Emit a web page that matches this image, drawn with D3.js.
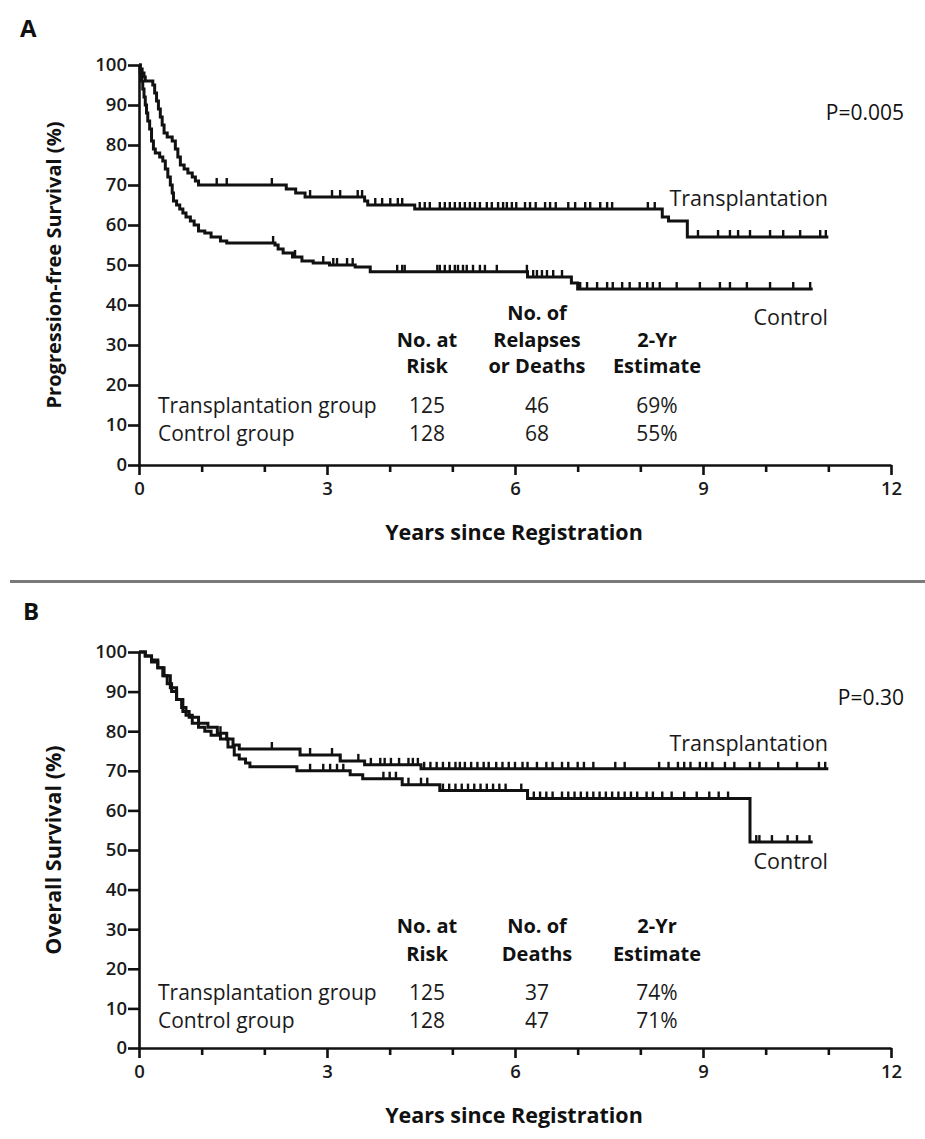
<!DOCTYPE html>
<html>
<head>
<meta charset="utf-8">
<script src="https://cdn.jsdelivr.net/npm/d3@7"></script>
<style>
  body { margin: 0; background: #fff; }
  svg { display: block; font-family: "Open Sans", "DejaVu Sans", sans-serif; }
</style>
</head>
<body>
<script>
/* globals d3 */
// Kaplan-Meier steps as [years, survival %]; each step holds until the next one
const pfsTransplant = [[0,100],[0.02,99],[0.05,98],[0.08,97],[0.1,96],[0.22,95],[0.25,93],[0.28,91],[0.31,89],[0.34,87],[0.37,85],[0.4,83],[0.45,82],[0.53,81],[0.58,79],[0.62,77],[0.66,75],[0.72,74],[0.78,73],[0.85,72],[0.9,71],[0.95,70],[2.35,69],[2.5,68],[2.65,67],[3.6,66],[3.65,65],[4.4,64],[8.35,62],[8.45,61],[8.75,57]]
const pfsControl = [[0,100],[0.02,98],[0.04,96],[0.06,94],[0.08,92],[0.1,90],[0.12,88],[0.14,86],[0.17,84],[0.2,81],[0.23,79],[0.26,78],[0.33,77],[0.38,76],[0.42,74],[0.46,72],[0.5,70],[0.53,68],[0.55,66],[0.6,65],[0.65,64],[0.7,63],[0.75,62],[0.82,61],[0.88,60],[0.95,58.5],[1.05,58],[1.15,57],[1.3,56],[1.4,55.5],[2.17,55],[2.22,54],[2.3,53],[2.45,52],[2.6,51],[2.78,50.5],[3.04,50],[3.45,49.5],[3.69,48.3],[6.2,47],[6.9,45.5],[7.0,44]]
const osTransplant = [[0,100],[0.1,99],[0.2,98],[0.3,96],[0.4,94],[0.5,91],[0.6,88],[0.7,85],[0.8,83.5],[0.95,82],[1.1,81],[1.25,79.5],[1.4,78],[1.5,76.5],[1.6,75.5],[2.57,74],[3.21,72.5],[3.6,71.5],[4.5,70.5]]
const osControl = [[0,100],[0.1,99],[0.2,97.5],[0.3,96],[0.38,94],[0.45,92],[0.52,90],[0.6,88],[0.68,86],[0.75,84],[0.85,82],[0.95,81],[1.05,80],[1.15,79],[1.3,78],[1.42,76],[1.52,74],[1.6,73],[1.7,72],[1.77,71],[2.52,70],[3.37,69],[3.57,68],[4.2,66.5],[4.8,65],[6.2,63],[9.75,52]]

// last follow-up (years) for each curve
const followUp = { pfsTransplant: 11.0, pfsControl: 10.75, osTransplant: 11.0, osControl: 10.75 }

// censoring marks (years)
const pfsTransplantCensor = [1.24,1.4,2.12,2.73,3.08,3.21,3.49,3.56,3.77,3.88,4.01,4.13,4.2,4.48,4.56,4.64,4.8,4.88,4.96,5.04,5.12,5.2,5.28,5.36,5.44,5.55,5.63,5.73,5.81,5.87,5.95,6.02,6.16,6.24,6.33,6.48,6.56,6.65,6.85,6.96,7.12,7.2,7.36,7.47,7.55,8.12,8.23,8.92,9.24,9.43,9.56,9.75,10.07,10.28,10.55,10.87,10.96]
const pfsControlCensor = [2.14,2.49,2.94,3.1,3.16,3.32,3.41,4.12,4.2,4.24,4.76,4.8,4.88,4.96,5.04,5.09,5.17,5.23,5.33,5.44,5.52,5.71,6.19,6.29,6.35,6.43,6.51,6.61,6.75,7.04,7.15,7.31,7.47,7.56,7.71,7.83,7.99,8.11,8.2,8.31,8.58,8.95,9.27,9.43,9.7,10.07,10.44,10.71]
const osTransplantCensor = [1.3,1.4,2.12,2.73,3.08,3.21,3.5,3.7,3.85,3.92,4.02,4.15,4.3,4.37,4.45,4.55,4.65,4.75,4.85,4.95,5.05,5.12,5.2,5.3,5.4,5.5,5.58,5.7,5.8,5.9,6.0,6.12,6.2,6.35,6.5,6.6,6.75,6.85,7.0,7.1,7.25,7.6,7.75,8.3,8.45,8.6,8.7,8.8,8.95,9.05,9.15,9.35,9.5,9.75,9.9,10.2,10.5,10.85,10.95]
const osControlCensor = [2.73,2.94,3.05,3.16,3.26,3.9,4.0,4.1,4.3,4.5,4.6,4.85,4.95,5.05,5.15,5.25,5.35,5.45,5.55,5.65,5.75,5.85,6.1,6.3,6.4,6.5,6.6,6.75,6.85,6.95,7.05,7.15,7.25,7.35,7.45,7.55,7.65,7.75,7.85,7.95,8.1,8.2,8.35,8.5,8.7,8.9,9.1,9.25,9.4,9.85,9.9,10.1,10.35,10.5,10.7]

const yTicks = [0, 10, 20, 30, 40, 50, 60, 70, 80, 90, 100]
const xTicks = [0, 1, 2, 3, 4, 5, 6, 7, 8, 9, 10, 11, 12]
const xLabels = [0, 3, 6, 9, 12]

const groups = ['Transplantation group', 'Control group']
const atRisk = [125, 128]
const pfsEvents = [46, 68]
const pfsEstimate = ['69%', '55%']
const osEvents = [37, 47]
const osEstimate = ['74%', '71%']

const W = 925, H = 1139
const svg = d3.select('body').append('svg').attr('width', W).attr('height', H)
const x = d3.scaleLinear().domain([0, 12]).range([139, 891])
const colRisk = 427, colEvents = 537, colEst = 657

let stepAt = (steps, t) => {
  let s = steps[0][1]
  for (let [ti, si] of steps) if (ti <= t) s = si
  return s
}

function drawPanel(p) {
  let g = svg.append('g')
  let y = d3.scaleLinear().domain([0, 100]).range([p.y0, p.top])

  g.append('text').text(p.letter)
    .attr('x', p.letterX).attr('y', p.letterY)
    .attr('font-size', 24).attr('font-weight', 700).attr('fill', '#111')

  // axes
  let ya = g.append('g').attr('transform', `translate(${x(0)},0)`)
    .call(d3.axisLeft(y).tickValues(yTicks).tickSize(11).tickSizeOuter(0).tickPadding(1))
  let xa = g.append('g').attr('transform', `translate(0,${p.y0})`)
    .call(d3.axisBottom(x).tickValues(xTicks).tickSize(7).tickSizeOuter(0)
      .tickFormat(d => xLabels.includes(d) ? d : ''))
  xa.selectAll('.tick').filter(d => xLabels.includes(d)).select('line').attr('y2', 10)
  xa.selectAll('.tick text').attr('y', 17)
  for (let a of [ya, xa]) {
    a.select('.domain').attr('stroke', '#111').attr('stroke-width', 2.6)
    a.selectAll('.tick line').attr('stroke', '#111').attr('stroke-width', 2.6)
    a.selectAll('.tick text').attr('font-size', 18.5).attr('font-weight', 600)
      .attr('fill', '#1a1a1a').attr('font-family', '"Open Sans", sans-serif')
  }

  g.append('text').text(p.yTitle)
    .attr('transform', `translate(61,${(p.y0 + p.top) / 2}) rotate(-90)`)
    .attr('text-anchor', 'middle').attr('font-size', p.yTitleSize).attr('font-weight', 700).attr('fill', '#111')
  g.append('text').text('Years since Registration')
    .attr('x', 514).attr('y', p.y0 + 75)
    .attr('text-anchor', 'middle').attr('font-size', 21.5).attr('font-weight', 700).attr('fill', '#111')

  // curves
  let line = d3.line().x(d => x(d[0])).y(d => y(d[1])).curve(d3.curveStepAfter)
  for (let c of p.curves) {
    let pts = c.steps.concat([[c.end, c.steps[c.steps.length - 1][1]]])
    g.append('path').datum(pts).attr('d', line)
      .attr('fill', 'none').attr('stroke', '#111').attr('stroke-width', 3)
    g.append('g').selectAll('line').data(c.censor).join('line')
      .attr('x1', d => x(d)).attr('x2', d => x(d))
      .attr('y1', d => y(stepAt(c.steps, d))).attr('y2', d => y(stepAt(c.steps, d)) - 7)
      .attr('stroke', '#111').attr('stroke-width', 2.4)
    g.append('text').text(c.label)
      .attr('x', 828).attr('y', c.labelY).attr('text-anchor', 'end')
      .attr('font-size', 21.5).attr('fill', '#1a1a1a')
  }

  g.append('text').text(p.pValue)
    .attr('x', 904).attr('y', p.pY).attr('text-anchor', 'end')
    .attr('font-size', 21).attr('fill', '#111')

  // table
  let head = (txt, cx, yy) => g.append('text').text(txt).attr('x', cx).attr('y', yy)
    .attr('text-anchor', 'middle').attr('font-size', 20).attr('font-weight', 700).attr('fill', '#111')
  p.headers.forEach(([txt, col, row]) => head(txt, [colRisk, colEvents, colEst][col], p.headRows[row]))
  groups.forEach((name, i) => {
    let yy = p.rows[i]
    let cell = (txt, cx, anchor) => g.append('text').text(txt).attr('x', cx).attr('y', yy)
      .attr('text-anchor', anchor).attr('font-size', 21).attr('fill', '#1a1a1a')
    cell(name, 158, 'start')
    cell(atRisk[i], colRisk, 'middle')
    cell(p.events[i], colEvents, 'middle')
    cell(p.estimate[i], colEst, 'middle')
  })
}

drawPanel({
  letter: 'A', letterX: 20, letterY: 37,
  top: 65, y0: 465,
  yTitle: 'Progression-free Survival (%)', yTitleSize: 20,
  pValue: 'P=0.005', pY: 120,
  curves: [
    { steps: pfsTransplant, end: followUp.pfsTransplant, censor: pfsTransplantCensor, label: 'Transplantation', labelY: 206 },
    { steps: pfsControl, end: followUp.pfsControl, censor: pfsControlCensor, label: 'Control', labelY: 325 }
  ],
  headRows: [320, 347, 373],
  headers: [['No. of', 1, 0], ['No. at', 0, 1], ['Relapses', 1, 1], ['2-Yr', 2, 1],
            ['Risk', 0, 2], ['or Deaths', 1, 2], ['Estimate', 2, 2]],
  rows: [413, 441],
  events: pfsEvents, estimate: pfsEstimate
})

// divider between panels
svg.append('line').attr('x1', 10).attr('x2', W).attr('y1', 581.5).attr('y2', 581.5)
  .attr('stroke', '#7a7a7a').attr('stroke-width', 3)

drawPanel({
  letter: 'B', letterX: 23, letterY: 620,
  top: 652, y0: 1048,
  yTitle: 'Overall Survival (%)', yTitleSize: 21.5,
  pValue: 'P=0.30', pY: 705,
  curves: [
    { steps: osTransplant, end: followUp.osTransplant, censor: osTransplantCensor, label: 'Transplantation', labelY: 751 },
    { steps: osControl, end: followUp.osControl, censor: osControlCensor, label: 'Control', labelY: 869 }
  ],
  headRows: [0, 933, 961],
  headers: [['No. at', 0, 1], ['No. of', 1, 1], ['2-Yr', 2, 1],
            ['Risk', 0, 2], ['Deaths', 1, 2], ['Estimate', 2, 2]],
  rows: [1000, 1028],
  events: osEvents, estimate: osEstimate
})
</script>
</body>
</html>
